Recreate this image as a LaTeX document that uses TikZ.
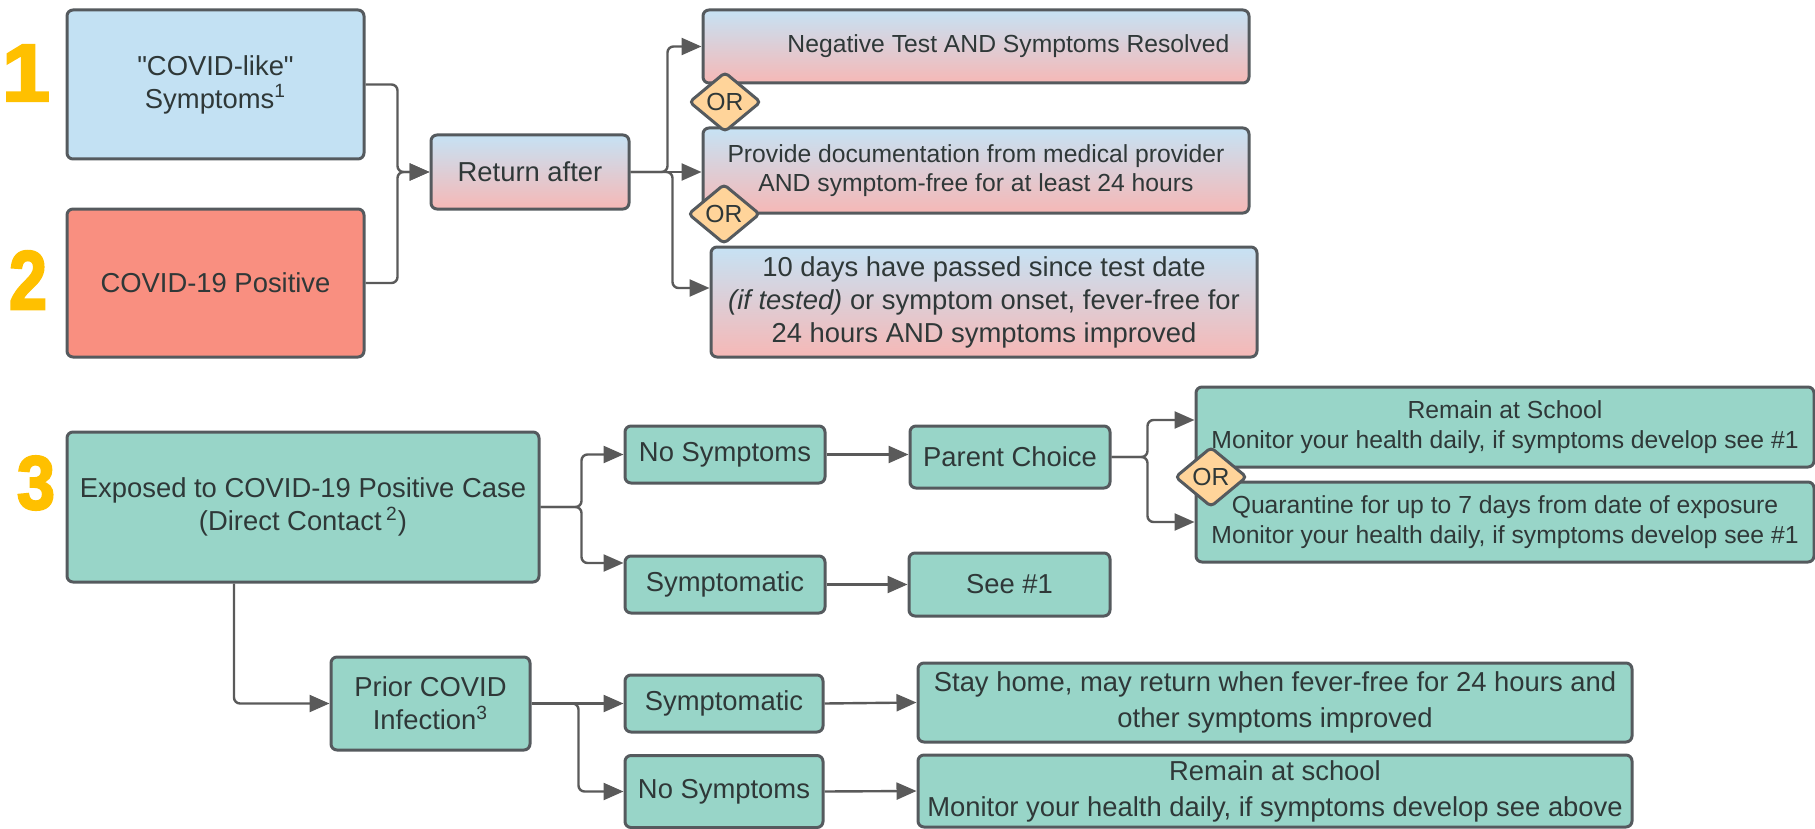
\documentclass[tikz,border=0pt]{standalone}
\usepackage{fontspec}
\setmainfont{Liberation Sans}
\newfontfamily\qfont{Liberation Sans}[Ligatures=TeXOff]
\newfontfamily\numfont[FakeBold=3]{Liberation Sans Bold}
\usetikzlibrary{arrows.meta,shapes.geometric}
\definecolor{lblue}{HTML}{C3E1F3}
\definecolor{salmon}{HTML}{F98F80}
\definecolor{gtop}{HTML}{C6E2F4}
\definecolor{gbot}{HTML}{F6B8B6}
\definecolor{tealf}{HTML}{98D5C8}
\definecolor{orfill}{HTML}{FFD49A}
\definecolor{bordc}{HTML}{555A5E}
\definecolor{arrc}{HTML}{5A5A5A}
\definecolor{goldc}{HTML}{FFC000}
\definecolor{txtc}{HTML}{2F3838}
\newcommand\fbig{\fontsize{13.7}{16.5}\selectfont}
\newcommand\fbigw{\fontsize{13.7}{18}\selectfont}
\newcommand\fsmall{\fontsize{12.35}{14.8}\selectfont}
\tikzset{
  box/.style={draw=bordc, line width=1.5pt, rounded corners=3pt, align=center,
    inner sep=0pt, text=txtc, font=\fbig},
  gbox/.style={box, top color=gtop, bottom color=gbot},
  tbox/.style={box, fill=tealf},
  ordia/.style={diamond, draw=bordc, line width=1.5pt, rounded corners=2pt, fill=orfill,
    minimum width=36pt, minimum height=30pt, inner sep=0pt, text=txtc, font=\fsmall},
  numlab/.style={text=goldc, inner sep=0pt, font=\numfont},
  arr/.style={draw=arrc, line width=1.2pt, rounded corners=3pt,
    -{Triangle[length=10pt,width=8.5pt]}}
}
\begin{document}
\begin{tikzpicture}[x=0.5pt,y=-0.5pt]
\useasboundingbox (0,0) rectangle (1815,829);
% numbers
\node[numlab] (n1) at (26,73) {\resizebox{24pt}{28pt}{1}};
\node[numlab] (n2) at (28,280) {\resizebox{19pt}{29pt}{2}};
\node[numlab] (n3) at (36,483) {\resizebox{19pt}{26.5pt}{3}};
% section 1/2
\node[box, fill=lblue, minimum width=148.5pt, minimum height=74.5pt] (box1) at (215.5,84.5) {{\qfont"}COVID-like{\qfont"}\\Symptoms\textsuperscript{1}};
\node[box, fill=salmon, minimum width=148.5pt, minimum height=74pt] (box2) at (215.5,283) {COVID-19 Positive};
\node[gbox, minimum width=99pt, minimum height=37pt] (ret) at (530,172) {Return after};
\node[gbox, font=\fsmall, minimum width=273pt, minimum height=36.5pt] (neg) at (976,46.5) {\hspace*{32.5pt}Negative Test AND Symptoms Resolved};
\node[gbox, font=\fsmall, minimum width=273pt, minimum height=42.5pt] (prov) at (976,170.5) {Provide documentation from medical provider\\AND symptom-free for at least 24 hours};
\node[gbox, minimum width=273pt, minimum height=55pt] (ten) at (984,302) {10 days have passed since test date\\\textit{(if tested)} or symptom onset, fever-free for\\24 hours AND symptoms improved};
\node[ordia] (or1) at (725,102) {OR};
\node[ordia] (or2) at (724,214) {OR};
% connectors 1/2
\draw[arr] (box1.east) -- ++(32,0) |- (ret.west);
\draw[arr] (box2.east) -- ++(32,0) |- (ret.west);
\draw[arr] (ret.east) -- ++(37,0) |- (neg.west);
\draw[arr] (ret.east) -- (ret.east -| prov.west);
\draw[arr] (ret.east) -- ++(42,0) |- ([yshift=7pt]ten.west);
% section 3
\node[tbox, minimum width=236pt, minimum height=75pt] (exp) at (303,507) {Exposed to COVID-19 Positive Case\\(Direct Contact\,\textsuperscript{2})};
\node[tbox, minimum width=100pt, minimum height=28.5pt] (nosym1) at (725,454.5) {No Symptoms};
\node[tbox, minimum width=100pt, minimum height=28.5pt] (sym1) at (725,584.5) {Symptomatic};
\node[tbox, minimum width=100pt, minimum height=31pt] (pc) at (1010,457) {Parent Choice};
\node[tbox, minimum width=100.5pt, minimum height=31.5pt] (see1) at (1009.5,584.5) {See \#1};
\node[tbox, font=\fsmall, minimum width=309pt, minimum height=40pt] (remain) at (1505,427) {Remain at School\\Monitor your health daily, if symptoms develop see \#1};
\node[tbox, font=\fsmall, minimum width=309pt, minimum height=40pt] (quar) at (1505,522) {Quarantine for up to 7 days from date of exposure\\Monitor your health daily, if symptoms develop see \#1};
\node[ordia] (or3) at (1211,477) {OR};
\node[tbox, minimum width=99.5pt, minimum height=46.5pt] (prior) at (430.5,703.5) {Prior COVID\\Infection\textsuperscript{3}};
\node[tbox, minimum width=99pt, minimum height=28.5pt] (sym2) at (724,703.5) {Symptomatic};
\node[tbox, minimum width=99pt, minimum height=36pt] (nosym2) at (724,791.5) {No Symptoms};
\node[tbox, font=\fbigw, minimum width=357pt, minimum height=39.5pt] (stay) at (1275,702.5) {Stay home, may return when fever-free for 24 hours and\\other symptoms improved};
\node[tbox, font=\fbigw, minimum width=357pt, minimum height=36pt] (rem2) at (1275,791) {Remain at school\\Monitor your health daily, if symptoms develop see above};
% connectors 3
\draw[arr] (exp.east) -- ++(41,0) |- (nosym1.west);
\draw[arr] (exp.east) -- ++(41,0) |- ([yshift=10.75pt]sym1.west);
\draw[arr] (nosym1.east) -- (nosym1.east -| pc.west);
\draw[arr] (sym1.east) -- (see1.west);
\draw[arr] (pc.east) -- ++(36,0) |- ([yshift=3.5pt]remain.west);
\draw[arr] (pc.east) -- ++(36,0) |- (quar.west);
\draw[arr] ([xshift=-34.5pt]exp.south) |- (prior.west);
\draw[arr] (prior.east) -- (sym2.west);
\draw[arr] (prior.east) -- ++(47,0) |- (nosym2.west);
\draw[arr] (sym2.east) -- (stay.west);
\draw[arr] (nosym2.east) -- (rem2.west);
\end{tikzpicture}
\end{document}
